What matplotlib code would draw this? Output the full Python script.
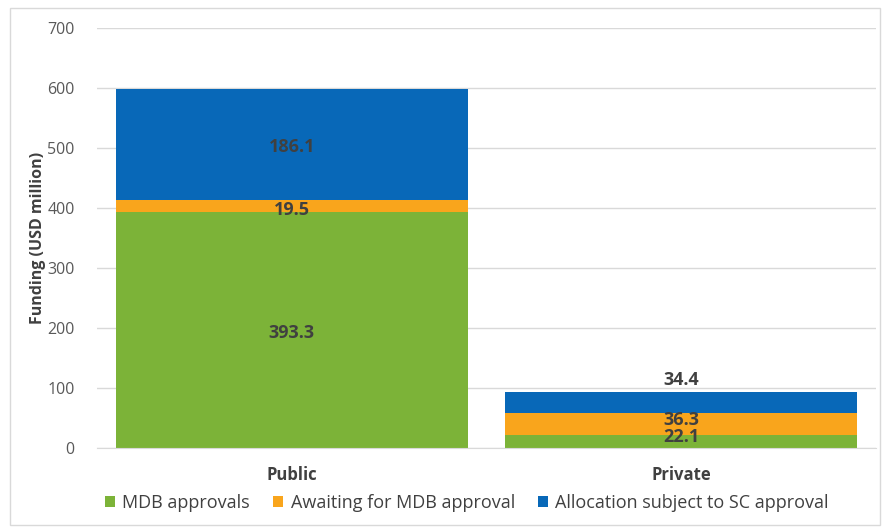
import numpy as np
import matplotlib.pyplot as plt
from matplotlib.patches import Rectangle

categories = ['Public', 'Private']
series = ['MDB approvals', 'Awaiting for MDB approval', 'Allocation subject to SC approval']
mdb_approvals = [393.3, 22.1]
awaiting_mdb = [19.5, 36.3]
allocation_sc = [186.1, 34.4]
# nudges for the value labels (data units, relative to segment centre)
label_shift = [[-5, 7], [-6, 6], [-4, 38]]

colors = ['#7cb338', '#f9a51c', '#0868b8']

plt.rcParams['font.family'] = ['Open Sans', 'DejaVu Sans']

fig = plt.figure(figsize=(8.83, 5.29), dpi=100)
fig.patches.append(Rectangle((10 / 883, 4 / 529), 870 / 883, 517 / 529,
                             transform=fig.transFigure, fill=False,
                             edgecolor='#d9d9d9', linewidth=1.0))
ax = fig.add_axes([97 / 883, 1 - 448 / 529, 779 / 883, 420 / 529])

x = np.arange(len(categories))
bottom = np.zeros(len(categories))
for vals, name, col, shift in zip([mdb_approvals, awaiting_mdb, allocation_sc],
                                  series, colors, label_shift):
    vals = np.array(vals)
    ax.bar(x, vals, width=0.905, bottom=bottom, color=col, label=name, zorder=2)
    for xi, b, v, s in zip(x, bottom, vals, shift):
        ax.text(xi, b + v / 2 + s, f'{v:.1f}', ha='center', va='center',
                fontsize=13, fontweight='bold', color='#404040', zorder=3)
    bottom += vals

ax.set_xlim(-0.5, 1.5)
ax.set_ylim(0, 700)
ax.set_yticks(np.arange(0, 701, 100))
ax.yaxis.grid(True, color='#d9d9d9', linewidth=1.0, zorder=0)
ax.set_axisbelow(True)
for sp in ['top', 'right', 'left']:
    ax.spines[sp].set_visible(False)
ax.spines['bottom'].set_color('#d9d9d9')
ax.tick_params(axis='y', length=0, labelsize=11.5, labelcolor='#595959', pad=16)
ax.tick_params(axis='x', length=0, pad=13)
ax.set_xticks(x)
ax.set_xticklabels(categories, fontsize=12, fontweight='bold', color='#404040')
ax.set_ylabel('Funding (USD million)', fontsize=11.5, fontweight='bold',
              color='#404040', labelpad=1)

ax.legend(loc='upper center', bbox_to_anchor=(0.475, -0.07), ncol=3, frameon=False,
          fontsize=13, handlelength=0.55, handleheight=0.55, handletextpad=0.4,
          columnspacing=1.3, labelcolor='#404040')

fig.savefig('out.png', dpi=100)
